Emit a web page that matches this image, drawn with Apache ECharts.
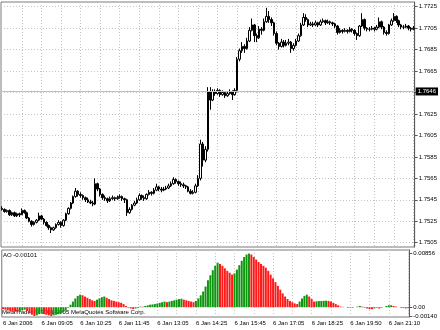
<!DOCTYPE html>
<html><head><meta charset="utf-8">
<script src="https://cdn.jsdelivr.net/npm/echarts@6/dist/echarts.min.js"></script>
<style>html,body{margin:0;padding:0;background:#fff}#c{width:440px;height:330px}</style>
</head><body><div id="c"></div>
<script>
// ---- data ----
const timeLabels = ['6 Jan 2006','6 Jan 09:05','6 Jan 10:25','6 Jan 11:45','6 Jan 13:05','6 Jan 14:25','6 Jan 15:45','6 Jan 17:05','6 Jan 18:25','6 Jan 19:50','6 Jan 21:10'];
const labelStep = 16;

const open = [
1.7537,1.7536,1.7534,1.7535,1.7531,1.7533,1.7530,1.7532,1.7531,1.7535,
1.7533,1.7528,1.7525,1.7522,1.7524,1.7526,1.7530,1.7527,1.7524,1.7521,
1.7519,1.7517,1.7519,1.7522,1.7524,1.7521,1.7526,1.7532,1.7537,1.7542,
1.7548,1.7553,1.7550,1.7549,1.7547,1.7545,1.7543,1.7542,1.7541,1.7560,
1.7555,1.7550,1.7547,1.7546,1.7544,1.7546,1.7547,1.7546,1.7547,1.7548,
1.7546,1.7545,1.7533,1.7536,1.7540,1.7542,1.7545,1.7549,1.7547,1.7546,
1.7550,1.7552,1.7551,1.7554,1.7557,1.7555,1.7554,1.7555,1.7556,1.7558,
1.7560,1.7564,1.7562,1.7560,1.7559,1.7558,1.7557,1.7553,1.7551,1.7552,
1.7558,1.7565,1.7597,1.7582,1.7592,1.7646,1.7638,1.7646,1.7644,1.7647,
1.7643,1.7645,1.7642,1.7644,1.7646,1.7643,1.7647,1.7676,1.7684,1.7688,
1.7686,1.7693,1.7703,1.7708,1.7698,1.7696,1.7704,1.7703,1.7711,1.7716,
1.7713,1.7710,1.7700,1.7691,1.7688,1.7692,1.7689,1.7691,1.7692,1.7686,
1.7689,1.7693,1.7698,1.7708,1.7715,1.7713,1.7708,1.7709,1.7708,1.7710,
1.7708,1.7711,1.7712,1.7710,1.7711,1.7710,1.7709,1.7707,1.7701,1.7703,
1.7702,1.7703,1.7702,1.7704,1.7703,1.7700,1.7698,1.7707,1.7713,1.7705,
1.7704,1.7704,1.7705,1.7704,1.7706,1.7711,1.7706,1.7701,1.7700,1.7708,
1.7712,1.7716,1.7712,1.7708,1.7706,1.7706,1.7707,1.7705,1.7704];
const high = [
1.7539,1.7537,1.7536,1.7536,1.7534,1.7534,1.7533,1.7533,1.7537,1.7536,
1.7534,1.7529,1.7526,1.7525,1.7527,1.7533,1.7531,1.7528,1.7525,1.7522,
1.7520,1.7520,1.7523,1.7526,1.7525,1.7527,1.7533,1.7538,1.7543,1.7549,
1.7556,1.7554,1.7552,1.7550,1.7548,1.7547,1.7545,1.7544,1.7565,1.7561,
1.7556,1.7551,1.7549,1.7547,1.7548,1.7549,1.7548,1.7549,1.7550,1.7549,
1.7547,1.7546,1.7538,1.7541,1.7544,1.7547,1.7551,1.7550,1.7549,1.7551,
1.7554,1.7553,1.7556,1.7560,1.7558,1.7557,1.7557,1.7558,1.7560,1.7562,
1.7566,1.7565,1.7563,1.7562,1.7561,1.7559,1.7558,1.7555,1.7554,1.7560,
1.7568,1.7601,1.7599,1.7595,1.7650,1.7650,1.7648,1.7648,1.7649,1.7648,
1.7647,1.7646,1.7646,1.7648,1.7647,1.7649,1.7678,1.7686,1.7692,1.7690,
1.7696,1.7706,1.7714,1.7709,1.7700,1.7707,1.7706,1.7714,1.7724,1.7721,
1.7715,1.7711,1.7702,1.7692,1.7695,1.7694,1.7694,1.7695,1.7693,1.7691,
1.7695,1.7700,1.7710,1.7719,1.7718,1.7714,1.7711,1.7711,1.7712,1.7711,
1.7713,1.7714,1.7713,1.7713,1.7712,1.7711,1.7710,1.7708,1.7705,1.7704,
1.7705,1.7704,1.7706,1.7705,1.7704,1.7701,1.7708,1.7719,1.7714,1.7706,
1.7706,1.7707,1.7706,1.7708,1.7715,1.7712,1.7707,1.7703,1.7709,1.7714,
1.7719,1.7717,1.7713,1.7709,1.7708,1.7709,1.7708,1.7706,1.7707];
const low = [
1.7535,1.7533,1.7533,1.7530,1.7530,1.7529,1.7529,1.7529,1.7531,1.7532,
1.7527,1.7524,1.7520,1.7521,1.7523,1.7525,1.7526,1.7522,1.7520,1.7517,
1.7514,1.7516,1.7518,1.7521,1.7519,1.7520,1.7525,1.7531,1.7536,1.7541,
1.7547,1.7548,1.7547,1.7545,1.7543,1.7542,1.7541,1.7539,1.7540,1.7553,
1.7548,1.7545,1.7544,1.7542,1.7543,1.7545,1.7544,1.7545,1.7546,1.7544,
1.7542,1.7530,1.7532,1.7535,1.7539,1.7541,1.7544,1.7545,1.7544,1.7545,
1.7549,1.7549,1.7550,1.7553,1.7553,1.7552,1.7553,1.7554,1.7555,1.7557,
1.7559,1.7560,1.7558,1.7557,1.7556,1.7555,1.7552,1.7550,1.7550,1.7551,
1.7557,1.7563,1.7576,1.7580,1.7590,1.7629,1.7637,1.7642,1.7643,1.7641,
1.7642,1.7640,1.7641,1.7643,1.7638,1.7642,1.7645,1.7674,1.7682,1.7682,
1.7685,1.7692,1.7702,1.7692,1.7692,1.7695,1.7699,1.7702,1.7710,1.7710,
1.7707,1.7698,1.7689,1.7685,1.7687,1.7687,1.7688,1.7689,1.7682,1.7684,
1.7688,1.7692,1.7697,1.7707,1.7711,1.7706,1.7707,1.7706,1.7707,1.7706,
1.7707,1.7710,1.7708,1.7709,1.7708,1.7707,1.7705,1.7699,1.7700,1.7700,
1.7701,1.7700,1.7701,1.7701,1.7698,1.7694,1.7697,1.7706,1.7703,1.7702,
1.7702,1.7703,1.7702,1.7703,1.7705,1.7704,1.7699,1.7698,1.7699,1.7707,
1.7711,1.7710,1.7706,1.7704,1.7704,1.7705,1.7703,1.7702,1.7703];
const close = [
1.7536,1.7534,1.7535,1.7531,1.7533,1.7530,1.7532,1.7531,1.7535,1.7533,
1.7528,1.7525,1.7522,1.7524,1.7526,1.7530,1.7527,1.7524,1.7521,1.7519,
1.7517,1.7519,1.7522,1.7524,1.7521,1.7526,1.7532,1.7537,1.7542,1.7548,
1.7553,1.7550,1.7549,1.7547,1.7545,1.7543,1.7542,1.7541,1.7560,1.7555,
1.7550,1.7547,1.7546,1.7544,1.7546,1.7547,1.7546,1.7547,1.7548,1.7546,
1.7545,1.7533,1.7536,1.7540,1.7542,1.7545,1.7549,1.7547,1.7546,1.7550,
1.7552,1.7551,1.7554,1.7557,1.7555,1.7554,1.7555,1.7556,1.7558,1.7560,
1.7564,1.7562,1.7560,1.7559,1.7558,1.7557,1.7553,1.7551,1.7552,1.7558,
1.7565,1.7597,1.7582,1.7592,1.7646,1.7638,1.7646,1.7644,1.7647,1.7643,
1.7645,1.7642,1.7644,1.7646,1.7643,1.7647,1.7676,1.7684,1.7688,1.7686,
1.7693,1.7703,1.7708,1.7698,1.7696,1.7704,1.7703,1.7711,1.7716,1.7713,
1.7710,1.7700,1.7691,1.7688,1.7692,1.7689,1.7691,1.7692,1.7686,1.7689,
1.7693,1.7698,1.7708,1.7715,1.7713,1.7708,1.7709,1.7708,1.7710,1.7708,
1.7711,1.7712,1.7710,1.7711,1.7710,1.7709,1.7707,1.7701,1.7703,1.7702,
1.7703,1.7702,1.7704,1.7703,1.7700,1.7698,1.7707,1.7713,1.7705,1.7704,
1.7704,1.7705,1.7704,1.7706,1.7711,1.7706,1.7701,1.7700,1.7708,1.7712,
1.7716,1.7712,1.7708,1.7706,1.7706,1.7707,1.7705,1.7704,1.7705];

const ao = [
-0.0003,-0.0004,-0.0005,-0.0006,-0.0007,-0.00072,-0.0008,-0.0007,-0.0005,-0.0004,
-0.0006,-0.0009,-0.0012,-0.0014,-0.0013,-0.0011,-0.0010,-0.0011,-0.0012,-0.0013,
-0.0014,-0.0013,-0.0012,-0.0011,-0.0010,-0.0008,-0.0005,-0.0001,0.0004,0.0009,
0.0014,0.0018,0.0020,0.0019,0.0017,0.0015,0.0013,0.0011,0.0010,0.0012,
0.0014,0.0016,0.0017,0.0015,0.0013,0.0011,0.0010,0.0009,0.0008,0.0007,
0.0005,0.0002,-0.0001,-0.0002,-0.0003,-0.0002,-0.0001,0.0001,0.00008,0.0002,
0.0003,0.0004,0.00045,0.0005,0.0006,0.0007,0.0008,0.0009,0.0008,0.0009,
0.0010,0.0011,0.0012,0.0013,0.00135,0.0012,0.0011,0.0010,0.0009,0.0008,
0.0010,0.0014,0.0019,0.0025,0.0033,0.0043,0.0051,0.0059,0.0066,0.0071,
0.0069,0.0066,0.0062,0.0058,0.0055,0.0052,0.0054,0.0060,0.0067,0.0074,
0.0080,0.0084,0.00856,0.0084,0.0080,0.0076,0.0072,0.0069,0.0066,0.0063,
0.0058,0.0052,0.0046,0.0040,0.0034,0.0028,0.0022,0.0017,0.0013,0.0010,
0.0008,0.0006,0.0005,0.0009,0.0014,0.0018,0.0020,0.0017,0.0013,0.0009,
0.00095,0.00098,0.0010,0.00102,0.00104,0.0010,0.0009,0.0007,0.0005,0.0003,
0.0001,0.00005,0.0000,-0.0001,-0.00005,-0.0001,0.0000,0.0001,0.0002,0.0001,
-0.0001,-0.0002,-0.0003,-0.00032,-0.0002,-0.0001,-0.0002,-0.0001,0.0000,0.0002,
0.0003,0.00032,0.0002,0.0001,0.0000,-0.0001,-0.00012,-0.0002,-0.00015];

const priceTicks = [1.7505,1.7525,1.7545,1.7565,1.7585,1.7605,1.7625,1.7645,1.7665,1.7685,1.7705,1.7725];
const priceLabels = [1.7505,1.7525,1.7545,1.7565,1.7585,1.7605,1.7625,1.7665,1.7685,1.7705,1.7725];
const bidPrice = 1.7646;
const aoTicks = [-0.0014, 0, 0.00856];
const aoTickLabels = ['-0.00140', '0.00', '0.00856'];
const aoTitle = 'AO -0.00101';
const copyright = 'MetaTrader \u00a9 2001-2005 MetaQuotes Software Corp.';

// ---- chart ----
const FONT = 'Liberation Sans';
const GREEN = '#0f960f', RED = '#ff1a1a';
const cats = close.map((_, i) => String(i));
const ohlc = close.map((c, i) => [open[i], c, low[i], high[i]]);
const gridLine = { color: '#c4c4c4', type: [1, 2], width: 1 };
const vSplit = { show: true, interval: (i) => i > 0 && i % 8 === 0, alignWithLabel: true, lineStyle: gridLine };

const chart = echarts.init(document.getElementById('c'), null, { renderer: 'canvas' });
chart.setOption({
  animation: false,
  backgroundColor: '#ffffff',
  grid: [
    { left: 1, right: 25, top: 2, bottom: 83, show: true, borderColor: '#7a7a7a', borderWidth: 1 },
    { left: 1, right: 25, top: 250, bottom: 13, show: true, borderColor: '#7a7a7a', borderWidth: 1 }
  ],
  xAxis: [
    { type: 'category', gridIndex: 0, data: cats, boundaryGap: true,
      axisLine: { show: false }, axisTick: { show: false }, axisLabel: { show: false }, splitLine: vSplit },
    { type: 'category', gridIndex: 1, data: cats, boundaryGap: true,
      axisLine: { show: false }, axisTick: { show: false },
      axisLabel: { show: true, interval: (i) => i % labelStep === 0,
        formatter: (v, i) => timeLabels[i / labelStep] || '',
        align: 'left', fontSize: 6, color: '#000', fontFamily: FONT, margin: 3 },
      splitLine: vSplit }
  ],
  yAxis: [
    { type: 'value', gridIndex: 0, position: 'right', min: 1.7501, max: 1.77294,
      axisLine: { show: true, lineStyle: { color: '#5a5a5a' } },
      axisTick: { show: true, length: 3, customValues: priceTicks, lineStyle: { color: '#5a5a5a' } },
      axisLabel: { customValues: priceLabels, formatter: (v) => Number(v).toFixed(4),
        fontSize: 6, color: '#000', fontFamily: FONT, margin: 4 },
      splitLine: { show: true, lineStyle: gridLine } },
    { type: 'value', gridIndex: 1, position: 'right', min: -0.00156, max: 0.00912,
      axisLine: { show: true, lineStyle: { color: '#5a5a5a' } },
      axisTick: { show: true, length: 3, customValues: aoTicks, lineStyle: { color: '#5a5a5a' } },
      axisLabel: { customValues: aoTicks,
        formatter: (v) => { let b = 0; aoTicks.forEach((t, k) => { if (Math.abs(t - v) < Math.abs(aoTicks[b] - v)) b = k; }); return aoTickLabels[b]; },
        fontSize: 6, color: '#000', fontFamily: FONT, margin: 4 },
      splitLine: { show: false } }
  ],
  series: [
    { type: 'line', xAxisIndex: 0, yAxisIndex: 0, data: [], silent: true, z: 1,
      markLine: { silent: true, symbol: 'none', animation: false, precision: 4,
        data: [{ yAxis: bidPrice }],
        lineStyle: { color: '#c0c0c0', type: 'solid', width: 1 },
        label: { position: 'end', formatter: bidPrice.toFixed(4), backgroundColor: '#000', color: '#fff',
          fontSize: 6, fontFamily: FONT, padding: [1, 2, 1, 2], distance: 1 } } },
    { type: 'candlestick', xAxisIndex: 0, yAxisIndex: 0, data: ohlc, barWidth: 2, z: 3,
      itemStyle: { color: '#ffffff', color0: '#000000', borderColor: '#000000', borderColor0: '#000000', borderWidth: 1 } },
    { type: 'bar', xAxisIndex: 1, yAxisIndex: 1, data: ao, barWidth: 2,
      itemStyle: { color: (p) => (p.dataIndex > 0 && ao[p.dataIndex] > ao[p.dataIndex - 1]) ? GREEN : RED } }
  ],
  graphic: [
    { type: 'text', left: 3, top: 252, style: { text: aoTitle, font: '6px "Liberation Sans"', fill: '#000' } },
    { type: 'text', left: 2, top: 309, style: { text: copyright, font: '6px "Liberation Sans"', fill: '#000' } }
  ]
});
</script>
</body></html>
